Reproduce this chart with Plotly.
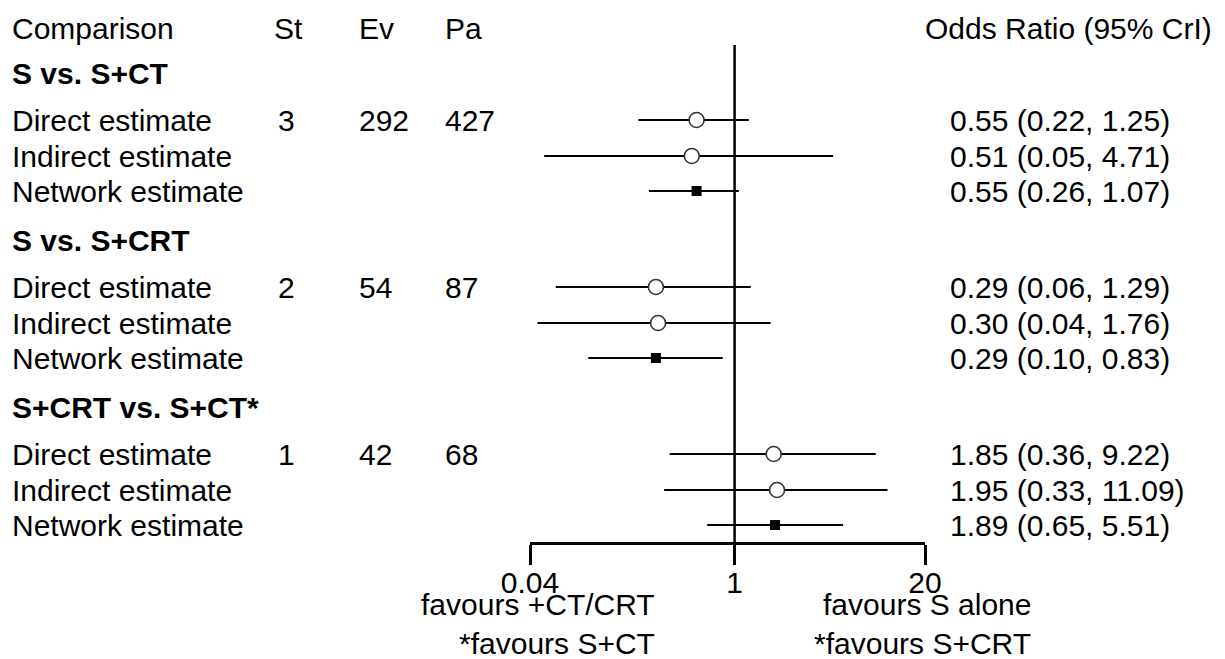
import math
import plotly.graph_objects as go

# ---------------- data ----------------
groups = ["S vs. S+CT", "S vs. S+CRT", "S+CRT vs. S+CT*"]
estimates = ["Direct estimate", "Indirect estimate", "Network estimate"]
studies = [3, 2, 1]
events = [292, 54, 42]
patients = [427, 87, 68]

or_point = [[0.55, 0.51, 0.55], [0.29, 0.30, 0.29], [1.85, 1.95, 1.89]]
or_low = [[0.22, 0.05, 0.26], [0.06, 0.045, 0.10], [0.36, 0.33, 0.65]]
or_high = [[1.25, 4.71, 1.07], [1.29, 1.76, 0.83], [9.22, 11.09, 5.51]]
or_labels = [
    ["0.55 (0.22, 1.25)", "0.51 (0.05, 4.71)", "0.55 (0.26, 1.07)"],
    ["0.29 (0.06, 1.29)", "0.30 (0.04, 1.76)", "0.29 (0.10, 0.83)"],
    ["1.85 (0.36, 9.22)", "1.95 (0.33, 11.09)", "1.89 (0.65, 5.51)"],
]
tick_vals = [0.04, 1, 20]
tick_text = ["0.04", "1", "20"]

# ---------------- layout constants ----------------
WIN_W, WIN_H = 1225, 659
BODY = 8                       # default page margin of the html body
W, H = WIN_W - BODY, WIN_H - BODY
FONT = "Liberation Sans, Arial, sans-serif"
FS = 30
AX_Y = 543          # window pixel row of the x axis line
AX_L, AX_R = 530, 925
HEADER_Y = 28
GROUP_Y0 = 73
GROUP_PITCH = 167
ROW_OFFS = [47, 83, 118]

fig = go.Figure()
ann = []

def text(x, y, s, anchor="left", bold=False, size=FS):
    ann.append(dict(x=x, y=y, xref="x", yref="y", text=("<b>%s</b>" % s) if bold else s,
                    showarrow=False, xanchor=anchor, yanchor="middle",
                    font=dict(family=FONT, size=size, color="black")))

# invisible trace so the page-coordinate axes exist
fig.add_trace(go.Scatter(x=[BODY, WIN_W], y=[BODY, WIN_H], mode="markers",
                         marker=dict(opacity=0), hoverinfo="skip", showlegend=False,
                         xaxis="x", yaxis="y"))

# header
text(10, HEADER_Y, "Comparison")
text(272, HEADER_Y, "St")
text(357, HEADER_Y, "Ev")
text(443, HEADER_Y, "Pa")
text(923, HEADER_Y, "Odds Ratio (95% CrI)")

for g in range(3):
    gy = GROUP_Y0 + g * GROUP_PITCH
    text(10, gy, groups[g], bold=True)
    for r in range(3):
        y = gy + ROW_OFFS[r]
        text(10, y, estimates[r])
        if r == 0:
            text(286, y, str(studies[g]), anchor="center")
            text(357, y, str(events[g]))
            text(443, y, str(patients[g]))
        text(948, y, or_labels[g][r])
        fig.add_trace(go.Scatter(x=[or_low[g][r], or_high[g][r]], y=[y, y], mode="lines",
                                 line=dict(color="black", width=2.2), hoverinfo="skip",
                                 showlegend=False, xaxis="x2", yaxis="y"))
        if r < 2:
            mk = dict(symbol="circle", size=15, color="white",
                      line=dict(color="#333333", width=1.6))
        else:
            mk = dict(symbol="square", size=10, color="black",
                      line=dict(color="black", width=0))
        fig.add_trace(go.Scatter(x=[or_point[g][r]], y=[y], mode="markers", marker=mk,
                                 hoverinfo="skip", showlegend=False, xaxis="x2", yaxis="y"))

# footer texts
text(657, 604, "favours +CT/CRT", anchor="right")
text(1033, 604, "favours S alone", anchor="right")
text(657, 643, "*favours S+CT", anchor="right")
text(1033, 643, "*favours S+CRT", anchor="right")

# reference line at OR = 1
fig.add_shape(type="line", xref="x2", yref="y", x0=1, x1=1, y0=45, y1=AX_Y,
              line=dict(color="black", width=2.5), layer="below")

lo = math.log10(0.04) - 1e-6
hi = math.log10(20) + 1e-6
fig.update_layout(
    width=W, height=H,
    margin=dict(l=0, r=0, t=0, b=0, pad=0, autoexpand=False),
    paper_bgcolor="white", plot_bgcolor="rgba(0,0,0,0)",
    annotations=ann,
    xaxis=dict(range=[BODY, WIN_W], domain=[0, 1], visible=False, fixedrange=True,
               automargin=False),
    yaxis=dict(range=[WIN_H, BODY], domain=[0, 1], visible=False, fixedrange=True,
               automargin=False),
    xaxis2=dict(type="log", range=[lo, hi],
                domain=[(AX_L - BODY) / W, (AX_R - BODY) / W],
                anchor="free", position=1 - (AX_Y - BODY) / H, automargin=False,
                showline=True, linecolor="black", linewidth=2.5,
                ticks="outside", ticklen=20, tickwidth=2.5, tickcolor="black",
                tickvals=tick_vals, ticktext=tick_text, ticklabelstandoff=-8,
                tickfont=dict(family=FONT, size=FS, color="black"),
                showgrid=False, zeroline=False),
)

fig.write_html("out.html")
